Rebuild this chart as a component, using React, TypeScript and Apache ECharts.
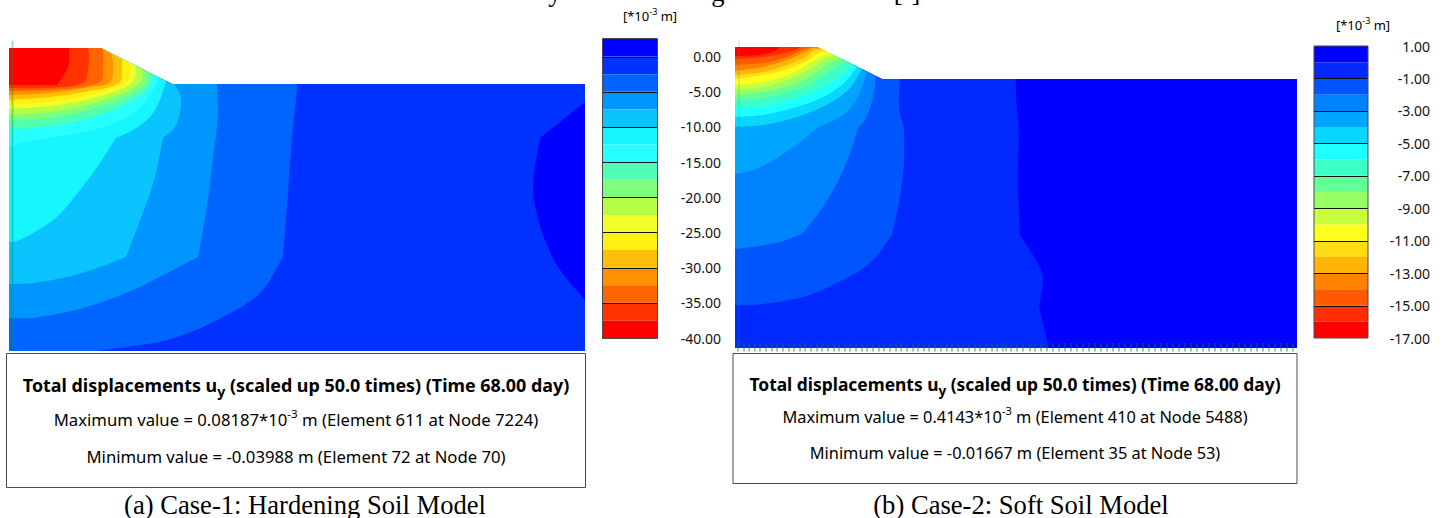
import React, { useEffect, useRef } from "react";
import * as echarts from "echarts";

type P = number[];

// Shared legend colours, coldest (top of legend) to hottest
const coloursA = ["#0000ff", "#0032ff", "#0064ff", "#0096ff", "#0ac3ff", "#17f6ff", "#27ffff", "#50ffb4", "#7dff7d", "#b4ff46", "#f0ff28", "#fff014", "#ffbe0a", "#ff9100", "#ff6400", "#ff3200", "#ff0000"];
const coloursB = ["#0000ff", "#0028ff", "#0055ff", "#0082ff", "#00a5ff", "#0ad7ff", "#1effff", "#3cffc8", "#64ff96", "#96ff64", "#c8ff3c", "#ffff1e", "#ffdc14", "#ffb40a", "#ff8200", "#ff5a00", "#ff2d00", "#ff0000"];

// Legend values
const legendTopA = [2.5, 0, -2.5, -5, -7.5, -10, -12.5, -15, -17.5, -20, -22.5, -25, -27.5, -30, -32.5, -35, -37.5];
const legendLinesA = [0, -5, -10, -15, -20, -25, -30, -35];
const legendLabelsA = [0, -5, -10, -15, -20, -25, -30, -35, -40];
const legendTopB = [1, 0, -1, -2, -3, -4, -5, -6, -7, -8, -9, -10, -11, -12, -13, -14, -15, -16];
const legendLinesB = [-1, -3, -5, -7, -9, -11, -13, -15];
const legendLabelsB = [1, -1, -3, -5, -7, -9, -11, -13, -15, -17];

// Ground profile, [distance, depth]
const surfaceA: P[] = [[0, 0], [92, 0], [163, 36], [576, 36]];
const surfaceB: P[] = [[0, 0], [82, 0], [147, 32], [562, 32]];
const floorA = 303;
const floorB = 301;
const widthA = 576;
const widthB = 562;

// Case 1 contours: each runs from the left or bottom edge up to the surface.
// A third element of 1 marks a sharp bend in the contour.
const coldPatchA: P[] = [[576, 54, 1], [531, 90, 1], [524, 137], [528, 167], [538, 197], [551, 222], [576, 252, 1]];
const a02: P[] = [[0, 303, 1], [88, 303, 1], [158, 292], [208, 272], [251, 245], [274, 209, 1], [279, 145], [283, 89], [288, 42], [288, 36]];
const a03: P[] = [[0, 270], [24, 270], [74, 260], [124, 242], [158, 225], [189, 209, 1], [198, 159], [204, 109], [207, 89, 1], [209, 65], [208, 36]];
const a04: P[] = [[0, 236], [24, 235], [58, 229], [91, 219], [117, 209, 1], [134, 165], [146, 129], [154, 90, 1], [166, 79], [172, 59], [171, 46], [165, 36]];
const a05: P[] = [[0, 194], [8, 193], [24, 185], [48, 169], [71, 142], [91, 115], [107, 90, 1], [124, 82], [141, 69], [151, 52], [157, 33]];
const a06: P[] = [[0, 100], [11, 95], [41, 90], [74, 84], [108, 74], [131, 60], [144, 42], [151, 30]];
const a07: P[] = [[0, 81], [24, 80], [58, 75], [91, 67], [118, 55], [138, 42], [145, 27]];
const a08: P[] = [[0, 73], [41, 70], [91, 59], [121, 47], [137, 36], [140, 25]];
const a09: P[] = [[0, 67], [41, 64], [81, 56], [119, 43], [132, 33], [134, 22]];
const a10: P[] = [[0, 61], [41, 58], [81, 51], [117, 39], [126, 30], [127, 18]];
const a11: P[] = [[0, 57], [41, 54], [81, 47], [115, 36], [121, 28], [122, 15]];
const a12: P[] = [[0, 52], [41, 49], [81, 43], [110, 35], [113, 22], [113, 11]];
const a13: P[] = [[0, 47], [41, 45], [81, 39], [101, 34], [104, 17], [103, 6]];
const a14: P[] = [[0, 43], [41, 42], [91, 34], [94, 17], [94, 1]];
const a15: P[] = [[0, 40], [36, 40], [74, 35], [79, 22], [80, 7], [79, 0]];
const a16: P[] = [[0, 37, 1], [48, 37, 1], [56, 25], [60, 15], [60, 0]];
const contoursA = [a02, a03, a04, a05, a06, a07, a08, a09, a10, a11, a12, a13, a14, a15, a16];

// Case 2 contours
const b01: P[] = [[0, 301, 1], [312, 301, 1], [312, 293, 1], [304, 260, 1], [308, 231], [302, 215], [285, 188, 1], [283, 133], [284, 81, 1], [281, 50], [281, 32]];
const b02: P[] = [[0, 258], [18, 258], [68, 250], [102, 236], [135, 216], [157, 188, 1], [165, 150], [169, 116], [169, 81, 1], [164, 60], [165, 32]];
const b03: P[] = [[0, 202], [18, 200], [45, 195], [67, 187, 1], [88, 160], [105, 130], [117, 100], [123, 81, 1], [130, 73], [138, 50], [141, 29]];
const b04: P[] = [[0, 127], [18, 123], [42, 111], [68, 93], [82, 81, 1], [108, 68], [123, 50], [132, 25]];
const b05: P[] = [[0, 80], [28, 78], [62, 70], [95, 56], [115, 41], [127, 22]];
const b06: P[] = [[0, 70], [28, 68], [62, 60], [92, 48], [110, 35], [122, 20]];
const b07: P[] = [[0, 61], [28, 59], [62, 51], [88, 40], [107, 28], [118, 18]];
const b08: P[] = [[0, 54], [28, 51], [62, 43], [85, 31], [101, 20], [112, 15]];
const b09: P[] = [[0, 48], [28, 45], [62, 36], [80, 26], [95, 16], [107, 12]];
const b10: P[] = [[0, 43], [28, 40], [58, 31], [77, 21], [92, 11], [101, 9]];
const b11: P[] = [[0, 38], [28, 35], [58, 26], [75, 16], [89, 8], [97, 7]];
const b12: P[] = [[0, 32], [28, 28], [55, 21], [73, 13], [85, 5], [93, 5]];
const b13: P[] = [[0, 28], [28, 25], [52, 18], [70, 10], [82, 2], [90, 4]];
const b14: P[] = [[0, 24], [28, 20], [52, 13], [68, 6], [78, 1], [87, 2.5]];
const b15: P[] = [[0, 18], [28, 16], [52, 10], [67, 3], [77, 0]];
const b16: P[] = [[0, 12], [28, 10], [55, 5], [67, 0]];
const b17: P[] = [[0, 9], [22, 8], [38, 5], [45, 0]];
const contoursB = [b01, b02, b03, b04, b05, b06, b07, b08, b09, b10, b11, b12, b13, b14, b15, b16, b17];

// Mesh marks along the base of case 2
const baseMarksB = [3, 9, 14, 20, 25, 31, 37, 42, 48, 54, 59, 65, 70, 76, 82, 87, 93, 99, 104, 110, 115, 121, 127, 132, 138, 144, 149, 155, 161, 166, 172, 178, 183, 189, 194, 200, 206, 212, 217, 223, 228, 234, 240, 245, 251, 257, 262, 268, 271, 276, 282, 288, 295, 300, 306, 312, 318, 324, 330, 336, 342, 348, 354, 360, 366, 372, 378, 384, 390, 396, 402, 408, 414, 420, 426, 432, 438, 444, 450, 456, 462, 468, 474, 480, 486, 492, 498, 504, 510, 516, 522, 528, 534, 540, 546, 552, 558];

// Texts
const font = "'Noto Sans', sans-serif";
const serif = "'Liberation Serif', serif";
const boldLine = "{b|Total displacements u}{bs|y}{b| (scaled up 50.0 times) (Time 68.00 day)}";
const maxA = "{n|Maximum value = 0.08187*10}{s|-3}{n| m (Element 611 at Node 7224)}";
const minA = "{n|Minimum value = -0.03988 m (Element 72 at Node 70)}";
const maxB = "{n|Maximum value = 0.4143*10}{s|-3}{n| m (Element 410 at Node 5488)}";
const minB = "{n|Minimum value = -0.01667 m (Element 35 at Node 53)}";
const unitLabel = "{u|[*10}{us|-3}{u| m]}";
const captionA = "(a) Case-1: Hardening Soil Model";
const captionB = "(b) Case-2: Soft Soil Model";

const makeRich = (boldSize: number, normalSize: number) => ({
  b: { fontFamily: font, fontSize: boldSize, fontWeight: "bold", color: "#000", lineHeight: 26 },
  bs: { fontFamily: font, fontSize: boldSize - 3.8, fontWeight: "bold", color: "#000", lineHeight: 16, verticalAlign: "bottom" },
  n: { fontFamily: font, fontSize: normalSize, color: "#111", lineHeight: 24 },
  s: { fontFamily: font, fontSize: normalSize - 5.2, color: "#111", lineHeight: 14, verticalAlign: "top" },
  u: { fontFamily: font, fontSize: 13, color: "#222", lineHeight: 18 },
  us: { fontFamily: font, fontSize: 9, color: "#222", lineHeight: 10, verticalAlign: "top" },
});
const richA = makeRich(17.9, 16.7);
const richB = makeRich(17.4, 16.35);

function contourPath(contour: P[], back: P[], toPx: (p: P) => number[]) {
  const pts = contour.map((p) => toPx([p[0], p[1]]));
  const sharp = contour.map((p) => p[2] === 1);
  const unit = (dx: number, dy: number) => {
    const l = Math.hypot(dx, dy) || 1;
    return [dx / l, dy / l];
  };
  const tangentOut = (i: number) =>
    sharp[i] || i === 0 || i === pts.length - 1
      ? i === pts.length - 1 ? unit(pts[i][0] - pts[i - 1][0], pts[i][1] - pts[i - 1][1]) : unit(pts[i + 1][0] - pts[i][0], pts[i + 1][1] - pts[i][1])
      : unit(pts[i + 1][0] - pts[i - 1][0], pts[i + 1][1] - pts[i - 1][1]);
  const tangentIn = (i: number) =>
    sharp[i] || i === 0 || i === pts.length - 1
      ? i === 0 ? unit(pts[1][0] - pts[0][0], pts[1][1] - pts[0][1]) : unit(pts[i][0] - pts[i - 1][0], pts[i][1] - pts[i - 1][1])
      : unit(pts[i + 1][0] - pts[i - 1][0], pts[i + 1][1] - pts[i - 1][1]);
  let d = `M${pts[0][0]} ${pts[0][1]}`;
  for (let i = 0; i < pts.length - 1; i++) {
    const a = pts[i];
    const b = pts[i + 1];
    const len = Math.hypot(b[0] - a[0], b[1] - a[1]) / 3;
    const ta = tangentOut(i);
    const tb = tangentIn(i + 1);
    d += `C${a[0] + ta[0] * len} ${a[1] + ta[1] * len} ${b[0] - tb[0] * len} ${b[1] - tb[1] * len} ${b[0]} ${b[1]}`;
  }
  back.forEach((p) => {
    const q = toPx(p);
    d += `L${q[0]} ${q[1]}`;
  });
  return d + "Z";
}

function contourSeries(gridIndex: number, items: { line: P[]; back: P[]; fill: string }[]) {
  return {
    type: "custom",
    xAxisIndex: gridIndex,
    yAxisIndex: gridIndex,
    silent: true,
    clip: false,
    data: items.map((_, i) => [i]),
    renderItem: (_p: any, api: any) => {
      const it = items[api.value(0)];
      return {
        type: "path",
        shape: { pathData: contourPath(it.line, it.back, (p) => api.coord(p)) },
        style: { fill: it.fill },
      };
    },
  };
}

function surfaceBack(contour: P[], surface: P[]): P[] {
  const end = contour[contour.length - 1];
  return surface.filter((p) => p[0] < end[0]).reverse();
}

function legendSeries(gridIndex: number, tops: number[], step: number, fills: string[]) {
  return {
    type: "custom",
    xAxisIndex: gridIndex,
    yAxisIndex: gridIndex,
    silent: true,
    data: tops.map((v, i) => [i, v]),
    renderItem: (_p: any, api: any) => {
      const i = api.value(0);
      const a = api.coord([0, tops[i]]);
      const b = api.coord([1, tops[i] - step]);
      return { type: "rect", shape: { x: a[0], y: a[1], width: b[0] - a[0], height: b[1] - a[1] }, style: { fill: fills[i] } };
    },
  };
}

function legendLineSeries(gridIndex: number, values: number[]) {
  return {
    type: "custom",
    xAxisIndex: gridIndex,
    yAxisIndex: gridIndex,
    silent: true,
    z: 5,
    data: values.map((v) => [v]),
    renderItem: (_p: any, api: any) => {
      const v = api.value(0);
      const a = api.coord([0, v]);
      const b = api.coord([1, v]);
      return { type: "line", shape: { x1: a[0], y1: Math.round(a[1]) + 0.5, x2: b[0], y2: Math.round(a[1]) + 0.5 }, style: { stroke: "#101010", lineWidth: 1 } };
    },
  };
}

function hiddenX(gridIndex: number, max: number) {
  return { type: "value", gridIndex, min: 0, max, show: false };
}
function hiddenY(gridIndex: number, min: number, max: number) {
  return { type: "value", gridIndex, min, max, inverse: true, show: false };
}
function legendY(gridIndex: number, min: number, max: number, labels: number[], margin: number) {
  return {
    type: "value",
    gridIndex,
    min,
    max,
    position: "right",
    axisLine: { show: false },
    axisTick: { show: false },
    splitLine: { show: false },
    axisLabel: {
      customValues: labels,
      formatter: (v: number) => v.toFixed(2),
      align: "right",
      margin,
      fontFamily: font,
      fontSize: 14,
      color: "#111",
    },
  };
}

function textEl(x: number, y: number, text: string, rich: any) {
  return { type: "text", x, y, silent: true, style: { text, rich, align: "center", verticalAlign: "middle" } };
}
function caption(x: number, y: number, text: string) {
  return { type: "text", x, y, silent: true, style: { text, fontFamily: serif, fontSize: 26.6, fill: "#000", align: "center", verticalAlign: "middle" } };
}
function box(x: number, y: number, width: number, height: number, fill: string) {
  return { type: "rect", silent: true, shape: { x, y, width, height }, style: { fill, stroke: "#4a4a4a", lineWidth: 1 } };
}

export default function App() {
  const ref = useRef<HTMLDivElement>(null);
  useEffect(() => {
    const chart = echarts.init(ref.current!, undefined, { renderer: "svg" });
    const itemsA = [
      { line: [...surfaceA.map((p) => [p[0], p[1], 1]), [widthA, floorA, 1], [0, floorA, 1]], back: [] as P[], fill: coloursA[1] },
      { line: coldPatchA, back: [] as P[], fill: coloursA[0] },
      ...contoursA.map((c, i) => ({ line: c, back: surfaceBack(c, surfaceA), fill: coloursA[i + 2] })),
    ];
    const itemsB = [
      { line: [...surfaceB.map((p) => [p[0], p[1], 1]), [widthB, floorB, 1], [0, floorB, 1]], back: [] as P[], fill: coloursB[0] },
      ...contoursB.map((c, i) => ({ line: c, back: surfaceBack(c, surfaceB), fill: coloursB[i + 1] })),
    ];
    chart.setOption({
      animation: false,
      backgroundColor: "#fff",
      grid: [
        { left: 9, top: 38, width: 576, height: 313 },
        { left: 603, top: 39, width: 55, height: 299 },
        { left: 735, top: 37, width: 562, height: 313 },
        { left: 1314, top: 46, width: 54, height: 292 },
      ],
      xAxis: [hiddenX(0, widthA), hiddenX(1, 1), hiddenX(2, widthB), hiddenX(3, 1)],
      yAxis: [
        hiddenY(0, -10, floorA),
        legendY(1, -40, 2.5, legendLabelsA, 63),
        hiddenY(2, -10, 303),
        legendY(3, -17, 1, legendLabelsB, 62),
      ],
      series: [
        contourSeries(0, itemsA),
        contourSeries(2, itemsB),
        legendSeries(1, legendTopA, 2.5, coloursA),
        legendLineSeries(1, legendLinesA),
        legendSeries(3, legendTopB, 1, coloursB),
        legendLineSeries(3, legendLinesB),
        {
          type: "line",
          xAxisIndex: 0,
          yAxisIndex: 0,
          silent: true,
          z: 6,
          clip: false,
          symbol: "none",
          data: [[3.5, -7], [3.5, floorA]],
          lineStyle: { color: "rgba(0,150,60,0.35)", width: 2 },
        },
        {
          type: "line",
          xAxisIndex: 2,
          yAxisIndex: 2,
          silent: true,
          z: 6,
          clip: false,
          symbol: "none",
          data: [[4, -7], [4, floorB]],
          lineStyle: { color: "rgba(0,170,80,0.2)", width: 1.5 },
        },
        {
          type: "custom",
          xAxisIndex: 2,
          yAxisIndex: 2,
          silent: true,
          z: 6,
          clip: false,
          data: baseMarksB.map((v) => [v]),
          renderItem: (_p: any, api: any) => {
            const a = api.coord([api.value(0), floorB - 5]);
            const b = api.coord([api.value(0), floorB + 3.5]);
            return { type: "line", shape: { x1: a[0], y1: a[1], x2: b[0], y2: b[1] }, style: { stroke: "rgba(0,130,40,0.8)", lineWidth: 1 } };
          },
        },
      ],
      graphic: [
        box(6.5, 353.5, 579, 134, "#fff"),
        box(733, 353.5, 564, 130, "#fff"),
        { ...box(602.5, 38.5, 55, 300, "transparent"), z: 10 },
        { ...box(1314, 46, 54, 292, "transparent"), z: 10 },
        textEl(296, 385, boldLine, richA),
        textEl(296, 419, maxA, richA),
        textEl(296, 456, minA, richA),
        textEl(1015, 384, boldLine, richB),
        textEl(1015, 417, maxB, richB),
        textEl(1015, 453, minB, richB),
        textEl(650, 16, unitLabel, richA),
        textEl(1363, 25, unitLabel, richA),
        caption(305, 504.5, captionA),
        caption(1021, 504.5, captionB),
        caption(555, -8, "y"),
        caption(718, -8, "g"),
        caption(907, -8, "[-]"),
      ],
    });
    return () => chart.dispose();
  }, []);
  return <div ref={ref} style={{ position: "absolute", left: 0, top: 0, width: 1445, height: 518 }} />;
}
